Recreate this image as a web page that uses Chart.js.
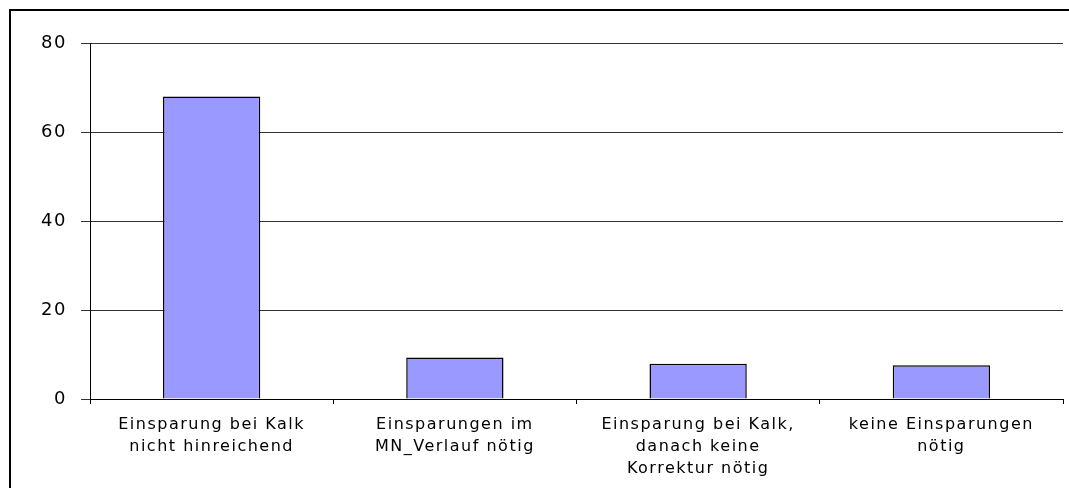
<!DOCTYPE html>
<html>
<head>
<meta charset="utf-8">
<script src="https://cdn.jsdelivr.net/npm/chart.js@4/dist/chart.umd.min.js"></script>
<style>
  html, body { margin: 0; padding: 0; background: #fff; overflow: hidden; }
  #wrap { position: relative; width: 1069px; height: 488px; }
  #frame { position: absolute; left: 9px; top: 9px; width: 1100px; height: 520px;
           border-left: 2px solid #000; border-top: 2px solid #000; pointer-events: none; }
  canvas { position: absolute; left: 0; top: 0; }
</style>
</head>
<body>
<div id="wrap">
  <canvas id="chart" width="1069" height="488"></canvas>
  <div id="frame"></div>
</div>
<script>
// categories (multi-line labels as in the original)
const categories = [
    ['Einsparung bei Kalk', 'nicht hinreichend'],
    ['Einsparungen im', 'MN_Verlauf nötig'],
    ['Einsparung bei Kalk,', 'danach keine', 'Korrektur nötig'],
    ['keine Einsparungen', 'nötig']
];
// values
const values = [68, 9.3, 7.9, 7.6];
// y axis ticks
const yMin = 0;
const yMax = 80;
const yStep = 20;

const fontFamily = 'DejaVu Sans, Arial, sans-serif';

// the original text is drawn rather wide, so spread the letters a bit
const wideText = {
    id: 'wideText',
    beforeDraw(chart) {
        chart.ctx.letterSpacing = '1.5px';
    }
};

const ctx = document.getElementById('chart').getContext('2d');
new Chart(ctx, {
    type: 'bar',
    data: {
        labels: categories,
        datasets: [{
            data: values,
            backgroundColor: '#9999FF',
            borderColor: '#000000',
            borderWidth: 1.5,
            barPercentage: 0.4,
            categoryPercentage: 1.0
        }]
    },
    options: {
        responsive: false,
        animation: false,
        events: [],
        layout: { padding: { left: 0, right: 6, top: 43, bottom: 0 } },
        plugins: {
            legend: { display: false },
            tooltip: { enabled: false }
        },
        scales: {
            x: {
                offset: true,
                afterFit: scale => { scale.height = 89; },
                grid: {
                    offset: true,
                    drawOnChartArea: false,
                    color: '#000',
                    tickLength: 5
                },
                border: { color: '#000', width: 1 },
                ticks: {
                    color: '#000',
                    padding: 10,
                    maxRotation: 0,
                    autoSkip: false,
                    font: { family: fontFamily, size: 16, lineHeight: 1.37 }
                }
            },
            y: {
                min: yMin,
                max: yMax,
                afterFit: scale => { scale.width = 90; },
                grid: {
                    color: '#333',
                    tickLength: 9
                },
                border: { color: '#000', width: 1 },
                ticks: {
                    stepSize: yStep,
                    color: '#000',
                    padding: 14,
                    font: { family: fontFamily, size: 18 }
                }
            }
        }
    },
    plugins: [wideText]
});
</script>
</body>
</html>
